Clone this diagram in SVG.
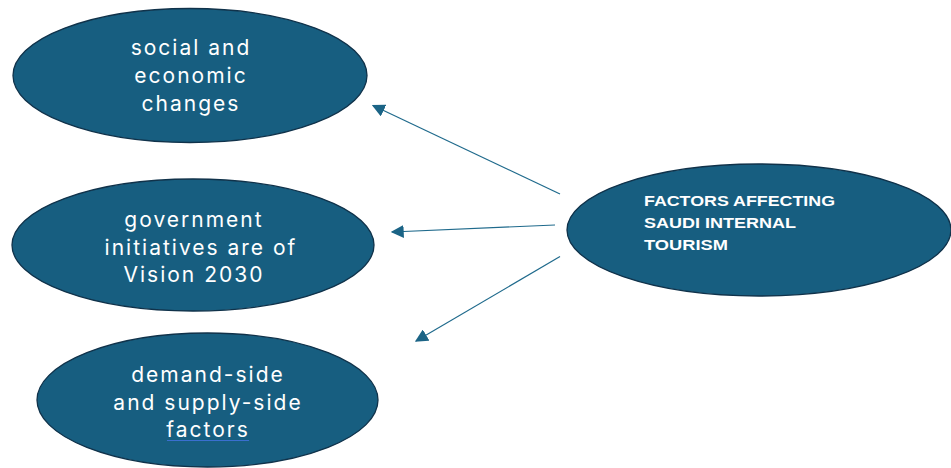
<svg xmlns="http://www.w3.org/2000/svg" width="951" height="468" viewBox="0 0 951 468">
<defs>
<style>
.n{fill:#175e80;stroke:#10324a;stroke-width:1.3}
.t{fill:#ffffff;font-family:Inter,"Open Sans",sans-serif;font-size:21px;letter-spacing:2px;text-anchor:middle}
.b{fill:#ffffff;font-family:"Liberation Sans",Arial,sans-serif;font-weight:bold;font-size:14px}
.c{stroke:#1f6a8c;stroke-width:1.2;fill:none}
</style>
<marker id="ah" viewBox="0 0 10 10" refX="9" refY="5" markerWidth="13" markerHeight="13" markerUnits="userSpaceOnUse" orient="auto">
<path d="M0,0 L10,5 L0,10 z" fill="#1b6486"/>
</marker>
</defs>
<rect width="951" height="468" fill="#ffffff"/>
<g id="node-social">
<ellipse class="n" cx="190" cy="75.5" rx="177" ry="67"/>
<text class="t" x="191" y="55">social and</text>
<text class="t" x="191" y="83">economic</text>
<text class="t" x="191" y="111">changes</text>
</g>
<g id="node-government">
<ellipse class="n" cx="193" cy="245" rx="181" ry="66"/>
<text class="t" x="194" y="227">government</text>
<text class="t" x="201" y="255">initiatives are of</text>
<text class="t" x="194" y="282">Vision 2030</text>
</g>
<g id="node-demand">
<ellipse class="n" cx="207.5" cy="400" rx="170.5" ry="67"/>
<text class="t" x="208" y="382">demand-side</text>
<text class="t" x="208" y="410">and supply-side</text>
<text class="t" x="208" y="437">factors</text>
<line x1="167" y1="440.5" x2="249" y2="440.5" stroke="#3a6fd0" stroke-width="1.2"/>
</g>
<g id="node-factors">
<ellipse class="n" cx="759" cy="230" rx="192" ry="66"/>
<text class="b" x="644" y="206" textLength="191" lengthAdjust="spacingAndGlyphs">FACTORS AFFECTING</text>
<text class="b" x="644" y="228" textLength="152" lengthAdjust="spacingAndGlyphs">SAUDI INTERNAL</text>
<text class="b" x="644" y="250" textLength="84" lengthAdjust="spacingAndGlyphs">TOURISM</text>
</g>
<g id="connectors">
<line class="c" x1="560" y1="194" x2="373" y2="105.5" marker-end="url(#ah)"/>
<line class="c" x1="555" y1="225" x2="392" y2="232" marker-end="url(#ah)"/>
<line class="c" x1="560" y1="256.5" x2="416" y2="341" marker-end="url(#ah)"/>
</g>
</svg>
